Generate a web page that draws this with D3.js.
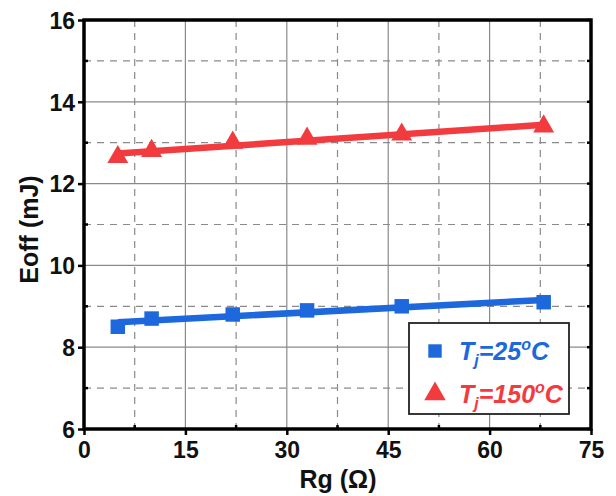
<!DOCTYPE html>
<html>
<head>
<meta charset="utf-8">
<script src="https://cdn.jsdelivr.net/npm/d3@7"></script>
<style>
  body { margin: 0; background: white; }
  text { font-family: "Liberation Sans", Arial, sans-serif; font-weight: bold; }
</style>
</head>
<body>
<div id="vis"></div>
<script>
// data
let rg = [5, 10, 22, 33, 47, 68]
let eoff25 = [8.5, 8.7, 8.8, 8.9, 9.0, 9.1]
let eoff150 = [12.65, 12.8, 13.0, 13.1, 13.2, 13.4]
let xTicks = [0, 15, 30, 45, 60, 75]
let yTicks = [6, 8, 10, 12, 14, 16]

let blue = '#1c68dc', red = '#f23b3f'

let margin = { top: 20, left: 84, right: 25, bottom: 67 },
  width = 616 - margin.left - margin.right,
  height = 496 - margin.top - margin.bottom

let svg = d3.select('#vis')
  .append('svg')
  .attr('width', 616)
  .attr('height', 496)

let g = svg.append('g')
  .attr('transform', `translate(${margin.left},${margin.top})`)

let x = d3.scaleLinear().domain([0, 75]).range([0, width])
let y = d3.scaleLinear().domain([6, 16]).range([height, 0])

// grid: solid at major, dashed at minor
let xMinor = d3.range(7.5, 75, 15), yMinor = d3.range(7, 16, 2)
g.selectAll('.gx').data(xTicks.slice(1, -1)).join('line')
  .attr('x1', d => x(d)).attr('x2', d => x(d)).attr('y1', 0).attr('y2', height)
  .attr('stroke', '#8a8a8a').attr('stroke-width', 1.2)
g.selectAll('.gy').data(yTicks.slice(1, -1)).join('line')
  .attr('y1', d => y(d)).attr('y2', d => y(d)).attr('x1', 0).attr('x2', width)
  .attr('stroke', '#8a8a8a').attr('stroke-width', 1.2)
g.selectAll('.mx').data(xMinor).join('line')
  .attr('x1', d => x(d)).attr('x2', d => x(d)).attr('y1', 0).attr('y2', height)
  .attr('stroke', '#8a8a8a').attr('stroke-width', 1.2).attr('stroke-dasharray', '7,6')
g.selectAll('.my').data(yMinor).join('line')
  .attr('y1', d => y(d)).attr('y2', d => y(d)).attr('x1', 0).attr('x2', width)
  .attr('stroke', '#8a8a8a').attr('stroke-width', 1.2).attr('stroke-dasharray', '7,6')

// axes
let xAxis = g.append('g').attr('transform', `translate(0,${height})`)
  .call(d3.axisBottom(x).tickValues(xTicks).tickSize(6).tickPadding(7))
let yAxis = g.append('g')
  .call(d3.axisLeft(y).tickValues(yTicks).tickSize(6).tickPadding(3))
;[xAxis, yAxis].forEach(a => {
  a.select('.domain').remove()
  a.selectAll('line').attr('stroke', '#000').attr('stroke-width', 2.5)
  a.selectAll('text').attr('font-size', 23).attr('fill', '#111')
})
yAxis.selectAll('text').attr('dy', '0.36em')

// minor ticks (small, inside)
g.selectAll('.tmx').data(xMinor).join('line')
  .attr('x1', d => x(d)).attr('x2', d => x(d)).attr('y1', height).attr('y2', height - 4)
  .attr('stroke', '#000').attr('stroke-width', 2.5)
g.selectAll('.tmy').data(yMinor).join('line')
  .attr('y1', d => y(d)).attr('y2', d => y(d)).attr('x1', 0).attr('x2', 4)
  .attr('stroke', '#000').attr('stroke-width', 2.5)
g.selectAll('.tmr').data(yTicks.concat(yMinor)).join('line')
  .attr('y1', d => y(d)).attr('y2', d => y(d)).attr('x1', width).attr('x2', width - 4)
  .attr('stroke', '#000').attr('stroke-width', 2.5)

// frame
g.append('rect').attr('width', width).attr('height', height)
  .attr('fill', 'none').attr('stroke', '#000').attr('stroke-width', 3.5)

// linear fits
function fit(xs, ys) {
  let mx = d3.mean(xs), my = d3.mean(ys)
  let b = d3.sum(xs, (v, i) => (v - mx) * (ys[i] - my)) / d3.sum(xs, v => (v - mx) ** 2)
  return v => my + b * (v - mx)
}
let series = [
  { vals: eoff25, color: blue, shape: d3.symbolSquare },
  { vals: eoff150, color: red, shape: d3.symbolTriangle }
]
series.forEach(s => {
  let f = fit(rg, s.vals)
  let ends = [d3.min(rg), d3.max(rg)]
  g.append('path')
    .attr('d', d3.line().x(d => x(d)).y(d => y(f(d)))(ends))
    .attr('stroke', s.color).attr('stroke-width', 6.5).attr('fill', 'none')
  g.selectAll(null).data(rg).join('path')
    .attr('transform', (d, i) => `translate(${x(d)},${y(s.vals[i])})`)
    .attr('d', d3.symbol().type(s.shape).size(s.shape === d3.symbolSquare ? 210 : 190))
    .attr('fill', s.color)
})

// legend
let lg = svg.append('g').attr('transform', 'translate(409,323)')
lg.append('rect').attr('width', 160).attr('height', 91)
  .attr('fill', 'white').attr('stroke', '#222').attr('stroke-width', 1.8)
let labels = [
  { t: '25', color: blue, shape: d3.symbolSquare, size: 180, yy: 28 },
  { t: '150', color: red, shape: d3.symbolTriangle, size: 200, yy: 71 }
]
labels.forEach(l => {
  lg.append('path').attr('transform', `translate(26,${l.yy})`)
    .attr('d', d3.symbol().type(l.shape).size(l.size)).attr('fill', l.color)
  let t = lg.append('text').attr('x', 50).attr('y', l.yy + 9)
    .attr('font-size', 25).attr('font-style', 'italic').attr('fill', l.color)
  t.append('tspan').text('T')
  t.append('tspan').text('j').attr('font-size', 16).attr('dy', 6)
  t.append('tspan').text('=' + l.t).attr('dy', -6)
  t.append('tspan').text('o').attr('font-size', 16).attr('dy', -10)
  t.append('tspan').text('C').attr('dy', 10)
})

// axis titles
svg.append('text').attr('x', 338).attr('y', 488)
  .attr('text-anchor', 'middle').attr('font-size', 25).attr('fill', '#111').text('Rg (Ω)')
svg.append('text').attr('transform', `translate(38,${margin.top + height / 2 + 5}) rotate(-90)`)
  .attr('text-anchor', 'middle').attr('font-size', 25).attr('fill', '#111').text('Eoff (mJ)')
</script>
</body>
</html>
